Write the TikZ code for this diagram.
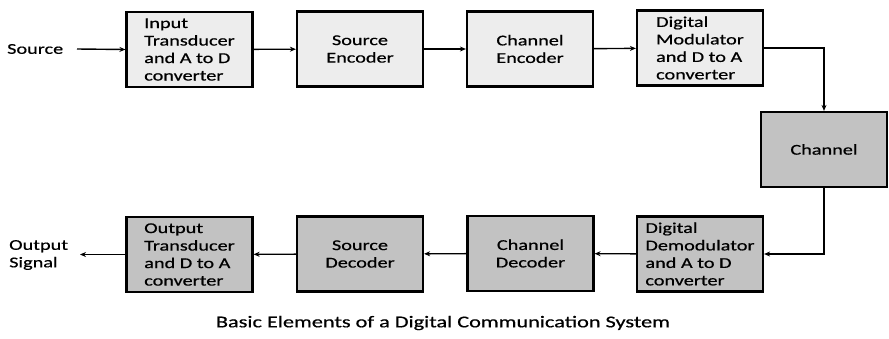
\documentclass[tikz,border=0pt]{standalone}
\usepackage{fontspec}
\setmainfont{Carlito}[FakeStretch=1.35, FakeBold=0.6]
\usetikzlibrary{arrows.meta}
\begin{document}
\begin{tikzpicture}[x=1pt,y=-1pt,
  every node/.style={font=\fontsize{15}{17.5}\selectfont},
  blk/.style={draw=black, line width=2.2pt, minimum width=126pt, minimum height=75pt,
    inner sep=2pt, align=left},
  lightblk/.style={blk, fill=black!7},
  darkblk/.style={blk, fill=black!24},
  conn/.style={line width=1.4pt, -{Stealth[length=6pt,width=5pt]}},
  lbl/.style={inner sep=0pt, align=left}
]
\useasboundingbox (0,0) rectangle (889,338);
% top row
\node[lbl, anchor=west] (src) at (7,49) {Source};
\node[lightblk] (itd) at (189.5,49.5) {Input\\Transducer\\and A to D\\converter};
\node[lightblk, align=center] (senc) at (360,49) {Source\\Encoder};
\node[lightblk, align=center] (cenc) at (530,49) {Channel\\Encoder};
\node[lightblk] (dmod) at (700,48) {Digital\\Modulator\\and D to A\\converter};
% channel
\node[darkblk, align=center] (chan) at (824,149.5) {Channel};
% bottom row
\node[darkblk] (ddem) at (700,254) {Digital\\Demodulator\\and A to D\\converter};
\node[darkblk, align=center] (cdec) at (530.5,253.5) {Channel\\Decoder};
\node[darkblk, align=center] (sdec) at (360,254) {Source\\Decoder};
\node[darkblk] (otd) at (189.5,254.5) {Output\\Transducer\\and D to A\\converter};
\node[lbl, anchor=west] (osig) at (9,255) {Output\\Signal};
\coordinate (oend) at (80,254.5);
\coordinate (sstart) at (77,49);
% caption
\node[inner sep=0pt, font=\fontsize{16.5}{18}\selectfont] (cap) at (443,323) {Basic Elements of a Digital Communication System};
% connectors
\draw[conn] (sstart) -- (itd.west);
\draw[conn] (itd) -- (senc);
\draw[conn] (senc) -- (cenc);
\draw[conn] (cenc) -- (dmod);
\draw[conn] (dmod.east) -| (chan.north);
\draw[conn] (chan.south) |- (ddem.east);
\draw[conn] (ddem) -- (cdec);
\draw[conn] (cdec) -- (sdec);
\draw[conn] (sdec) -- (otd);
\draw[conn] (otd.west) -- (oend);
\end{tikzpicture}
\end{document}
